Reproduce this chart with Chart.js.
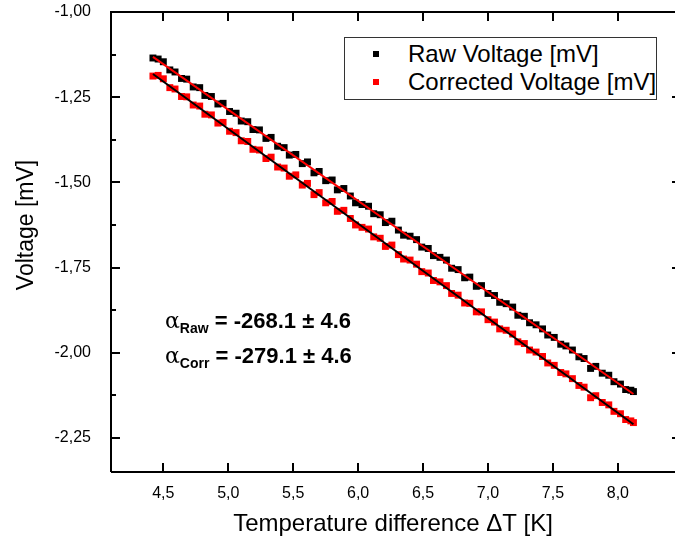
<!DOCTYPE html>
<html>
<head>
<meta charset="utf-8">
<script src="https://cdn.jsdelivr.net/npm/chart.js@4.4.1/dist/chart.umd.min.js"></script>
<style>
    html, body { margin: 0; padding: 0; background: #fff; overflow: hidden; }
    #wrap { position: relative; width: 675px; height: 546px; overflow: hidden; }
    #chart { display: block; }
    #legend {
        position: absolute; left: 344px; top: 37px; width: 313px; height: 63px;
        border: 1px solid #333; box-sizing: border-box; background: #fff;
        font-family: 'Liberation Sans', Arial, sans-serif; font-size: 24px; color: #000;
    }
    #legend .item { position: absolute; left: 63px; white-space: nowrap; line-height: 28px; }
    #legend .mark { position: absolute; left: -35px; top: 11px; width: 6px; height: 6px; }
    .alpha {
        position: absolute; left: 165px; white-space: nowrap;
        font-family: 'Liberation Sans', Arial, sans-serif; font-size: 22px; font-weight: bold; color: #000;
    }
    .alpha .greek { font-weight: normal; font-family: 'DejaVu Serif', serif; font-size: 22px; }
    .alpha sub { font-size: 14px; vertical-align: -5px; }
</style>
</head>
<body>
<div id="wrap">
    <canvas id="chart" width="675" height="546"></canvas>
    <div id="legend"></div>
    <div class="alpha" style="top: 308px;"><span class="greek">α</span><sub>Raw</sub> = -268.1 ± 4.6</div>
    <div class="alpha" style="top: 343px;"><span class="greek">α</span><sub>Corr</sub> = -279.1 ± 4.6</div>
</div>
<script>
// temperature difference [K], shared by both series
const deltaT = [
    4.42, 4.46, 4.50, 4.55, 4.59, 4.64, 4.68, 4.73, 4.78, 4.82,
    4.87, 4.92, 4.96, 5.01, 5.06, 5.10, 5.15, 5.19, 5.24, 5.29,
    5.33, 5.38, 5.43, 5.47, 5.52, 5.57, 5.61, 5.66, 5.70, 5.75,
    5.80, 5.84, 5.89, 5.94, 5.98, 6.03, 6.08, 6.12, 6.17, 6.21,
    6.26, 6.31, 6.35, 6.40, 6.45, 6.49, 6.54, 6.58, 6.63, 6.68,
    6.72, 6.77, 6.82, 6.86, 6.91, 6.95, 7.00, 7.05, 7.09, 7.14,
    7.19, 7.23, 7.28, 7.32, 7.37, 7.42, 7.46, 7.51, 7.56, 7.60,
    7.65, 7.70, 7.74, 7.79, 7.83, 7.88, 7.93, 7.97, 8.02, 8.06,
    8.10, 8.12
];

const rawVoltage = [
    -1.135, -1.138, -1.146, -1.170, -1.176, -1.195, -1.197, -1.220, -1.222, -1.245,
    -1.248, -1.270, -1.268, -1.292, -1.297, -1.320, -1.322, -1.345, -1.346, -1.371,
    -1.368, -1.394, -1.398, -1.420, -1.418, -1.445, -1.440, -1.472, -1.468, -1.495,
    -1.493, -1.522, -1.518, -1.540, -1.560, -1.565, -1.570, -1.592, -1.595, -1.618,
    -1.614, -1.640, -1.655, -1.658, -1.668, -1.690, -1.694, -1.715, -1.720, -1.728,
    -1.752, -1.756, -1.780, -1.778, -1.805, -1.803, -1.826, -1.832, -1.852, -1.856,
    -1.866, -1.890, -1.893, -1.912, -1.918, -1.930, -1.948, -1.955, -1.975, -1.980,
    -1.992, -2.012, -2.017, -2.046, -2.040, -2.060, -2.066, -2.085, -2.092, -2.108,
    -2.110, -2.114
];

const correctedVoltage = [
    -1.188, -1.186, -1.196, -1.222, -1.226, -1.248, -1.249, -1.273, -1.276, -1.300,
    -1.302, -1.326, -1.324, -1.350, -1.354, -1.378, -1.380, -1.403, -1.405, -1.430,
    -1.426, -1.455, -1.458, -1.482, -1.478, -1.508, -1.503, -1.536, -1.530, -1.560,
    -1.556, -1.585, -1.582, -1.606, -1.625, -1.632, -1.637, -1.660, -1.664, -1.688,
    -1.684, -1.712, -1.725, -1.728, -1.740, -1.762, -1.766, -1.788, -1.792, -1.803,
    -1.826, -1.831, -1.854, -1.855, -1.880, -1.880, -1.903, -1.910, -1.930, -1.934,
    -1.945, -1.968, -1.973, -1.992, -1.998, -2.011, -2.030, -2.037, -2.058, -2.062,
    -2.076, -2.096, -2.101, -2.132, -2.126, -2.146, -2.153, -2.172, -2.179, -2.196,
    -2.200, -2.205
];

const ticksX = [4.5, 5.0, 5.5, 6.0, 6.5, 7.0, 7.5, 8.0];
const ticksY = [-1.00, -1.25, -1.50, -1.75, -2.00, -2.25];
const minorTicksY = [-1.125, -1.375, -1.625, -1.875, -2.125];

const seriesLabels = ['Raw Voltage [mV]', 'Corrected Voltage [mV]'];
const yTitle = 'Voltage [mV]';

Chart.defaults.font.family = "'Liberation Sans', Arial, sans-serif";
Chart.defaults.color = '#000000';

function points(xs, ys) {
    return xs.map((x, i) => ({ x: x, y: ys[i] }));
}

// least squares line over the same range as the data
function linearFit(xs, ys) {
    const n = xs.length;
    let sx = 0, sy = 0, sxx = 0, sxy = 0;
    for (let i = 0; i < n; i++) {
        sx += xs[i];
        sy += ys[i];
        sxx += xs[i] * xs[i];
        sxy += xs[i] * ys[i];
    }
    const b = (n * sxy - sx * sy) / (n * sxx - sx * sx);
    const a = (sy - b * sx) / n;
    return [
        { x: xs[0], y: a + b * xs[0] },
        { x: xs[n - 1], y: a + b * xs[n - 1] }
    ];
}

// fixed axis sizes, no extra label padding around the plot area
function fixAxis(size) {
    return scale => {
        if (scale.isHorizontal()) scale.height = size;
        else scale.width = size;
        scale.paddingTop = 0;
        scale.paddingBottom = 0;
        scale.paddingLeft = 0;
        scale.paddingRight = 0;
    };
}

// frame, inward ticks and the y title (sits a bit above the axis centre)
const frame = {
    id: 'frame',
    afterDatasetsDraw(chart) {
        const ctx = chart.ctx;
        const area = chart.chartArea;
        const x = chart.scales.x;
        const y = chart.scales.y;
        const rightAxis = area.right + 6;

        ctx.save();
        ctx.strokeStyle = '#000';
        ctx.lineWidth = 2;
        ctx.beginPath();
        ctx.moveTo(area.left, area.bottom);
        ctx.lineTo(area.left, area.top);
        ctx.lineTo(rightAxis, area.top);
        ctx.moveTo(area.left, area.bottom);
        ctx.lineTo(rightAxis, area.bottom);

        ticksX.forEach(v => {
            const px = Math.round(x.getPixelForValue(v));
            ctx.moveTo(px, area.bottom);
            ctx.lineTo(px, area.bottom - 9);
            ctx.moveTo(px, area.top);
            ctx.lineTo(px, area.top + 9);
        });
        ticksY.forEach(v => {
            const py = Math.round(y.getPixelForValue(v));
            ctx.moveTo(area.left, py);
            ctx.lineTo(area.left + 9, py);
            ctx.moveTo(rightAxis, py);
            ctx.lineTo(rightAxis - 9, py);
        });
        minorTicksY.forEach(v => {
            const py = Math.round(y.getPixelForValue(v));
            ctx.moveTo(area.left, py);
            ctx.lineTo(area.left + 5, py);
            ctx.moveTo(rightAxis, py);
            ctx.lineTo(rightAxis - 5, py);
        });
        ctx.stroke();

        ctx.translate(27, y.getPixelForValue(-1.625));
        ctx.rotate(-Math.PI / 2);
        ctx.font = "23px 'Liberation Sans', Arial, sans-serif";
        ctx.fillStyle = '#000';
        ctx.textAlign = 'center';
        ctx.textBaseline = 'middle';
        ctx.fillText(yTitle, 0, 0);
        ctx.restore();
    }
};

const config = {
    type: 'scatter',
    data: {
        datasets: [
            {
                label: seriesLabels[0],
                data: points(deltaT, rawVoltage),
                backgroundColor: '#000000',
                borderWidth: 0,
                pointStyle: 'rect',
                pointRadius: 4.9,
                order: 1
            },
            {
                label: seriesLabels[1],
                data: points(deltaT, correctedVoltage),
                backgroundColor: '#ff0000',
                borderWidth: 0,
                pointStyle: 'rect',
                pointRadius: 4.9,
                order: 1
            },
            {
                label: 'fit raw',
                data: linearFit(deltaT, rawVoltage),
                showLine: true,
                borderColor: '#ff0000',
                borderWidth: 2,
                pointRadius: 0,
                order: 0
            },
            {
                label: 'fit corrected',
                data: linearFit(deltaT, correctedVoltage),
                showLine: true,
                borderColor: '#000000',
                borderWidth: 2,
                pointRadius: 0,
                order: 0
            }
        ]
    },
    options: {
        responsive: false,
        animation: false,
        devicePixelRatio: 1,
        layout: {
            autoPadding: false,
            padding: { top: 12, right: 0, left: 0, bottom: 0 }
        },
        plugins: {
            legend: { display: false },
            tooltip: { enabled: false }
        },
        scales: {
            x: {
                type: 'linear',
                min: 4.097,
                max: 8.44,
                afterBuildTicks: scale => { scale.ticks = ticksX.map(v => ({ value: v })); },
                afterFit: fixAxis(74),
                grid: { display: false, drawTicks: false },
                border: { display: false },
                ticks: {
                    padding: 12,
                    font: { size: 16 },
                    maxRotation: 0,
                    callback: v => v.toFixed(1).replace('.', ',')
                },
                title: {
                    display: true,
                    text: 'Temperature difference \u0394T [K]',
                    font: { size: 24 },
                    padding: { top: 0, bottom: 7 }
                }
            },
            y: {
                type: 'linear',
                min: -2.35,
                max: -1.00,
                afterBuildTicks: scale => { scale.ticks = ticksY.map(v => ({ value: v })); },
                afterFit: fixAxis(111),
                grid: { display: false, drawTicks: false },
                border: { display: false },
                ticks: {
                    padding: 20,
                    font: { size: 16 },
                    callback: v => v.toFixed(2).replace('.', ',')
                },
                title: { display: false }
            }
        }
    },
    plugins: [frame]
};

const chart = new Chart(document.getElementById('chart'), config);

// legend box built from the scatter datasets
const legend = document.getElementById('legend');
chart.data.datasets.slice(0, 2).forEach((ds, i) => {
    const item = document.createElement('div');
    item.className = 'item';
    item.style.top = (2 + i * 28) + 'px';
    const mark = document.createElement('span');
    mark.className = 'mark';
    mark.style.background = ds.backgroundColor;
    item.appendChild(mark);
    item.appendChild(document.createTextNode(ds.label));
    legend.appendChild(item);
});
</script>
</body>
</html>
